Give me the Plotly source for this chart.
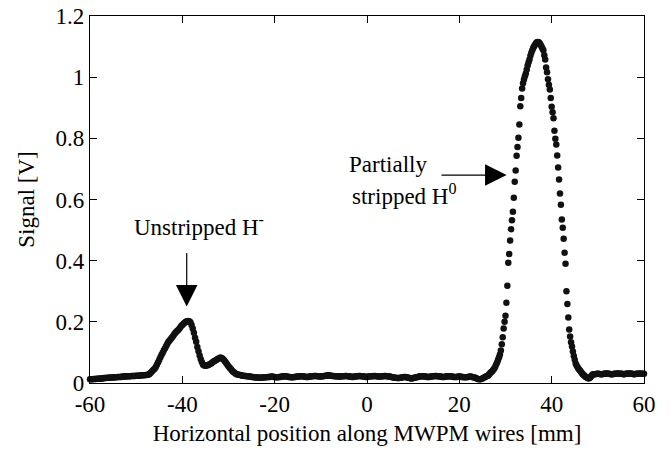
import numpy as np
import plotly.graph_objects as go

# ---- data: MWPM signal [mV] on uniform wire-position grids ----
# segment starts [mm] and steps [mm]
seg_a_start, seg_a_step = -60.0, 0.25
sig_a = [12, 12, 12, 13, 13, 13, 14, 14, 14, 15, 15, 15, 16, 16, 16, 17, 17, 17,
         18, 18, 18, 19, 19, 19, 20, 20, 20, 20, 21, 21, 21, 21, 22, 22, 22, 22,
         23, 23, 23, 23, 24, 24, 24, 24, 25, 25, 25, 25, 26, 26, 27]

seg_b_start, seg_b_step = -47.25, 0.25
sig_b = [28, 31, 35, 39, 43, 47, 52, 60, 68, 76, 84, 92, 99, 107, 114, 121, 128,
         135, 139, 144, 149, 154, 159, 164, 168, 172, 176, 181, 186, 190, 194,
         197, 200, 202]

seg_c_start, seg_c_step = -38.75, 0.25
sig_c = [203, 202, 199, 190, 178, 164, 148, 135, 118, 104, 90, 78, 68, 60, 57,
         56, 57, 58, 60, 62, 64, 67, 70, 72, 74, 77, 79, 81, 83, 82, 79, 75, 70,
         65, 60, 55, 50, 46, 41, 37, 34, 31, 29, 28, 27, 26, 25, 24, 24, 23, 23,
         22, 22, 21, 21, 20]

seg_mid_start, seg_mid_step = -24.75, 0.25
sig_mid = [20, 19, 19, 18, 18, 18, 17, 17, 18, 18, 19, 19, 19, 20, 20, 20,
           21, 21, 20, 20, 19, 19, 19, 20, 20, 21, 21, 22, 22, 21, 21, 20,
           20, 19, 19, 19, 20, 20, 21, 21, 21, 22, 22, 22, 21, 21, 20, 20,
           20, 21, 21, 22, 22, 23, 23, 23, 22, 22, 21, 21, 22, 22, 23, 24,
           24, 25, 25, 24, 24, 23, 23, 22, 22, 22, 21, 21, 21, 22, 22, 22,
           23, 23, 22, 22, 21, 21, 20, 20, 21, 21, 22, 22, 23, 23, 22, 22,
           21, 21, 20, 20, 21, 21, 22, 22, 22, 23, 23, 22, 22, 21, 21, 21,
           22, 22, 23, 23, 22, 22, 21, 21, 20, 19, 18, 17, 17, 16, 16, 16,
           17, 18, 19, 20, 20, 19, 18, 17, 16, 15, 15, 16, 17, 18, 19, 20,
           21, 21, 22, 22, 22, 21, 21, 20, 20, 20, 21, 21, 22, 22, 23, 23,
           22, 22, 21, 21, 20, 20, 20, 21, 21, 22, 22, 22, 21, 21, 20, 20,
           20, 20, 21, 21, 21, 20, 20, 19, 19, 19, 20, 20, 21, 21, 20, 19,
           18, 17, 15, 13, 12, 12, 13, 15, 17, 19, 21, 23]

seg_peak_start, seg_peak_step = 26.2, 0.2
sig_peak = [24, 27, 31, 34, 37, 40, 44, 48, 54, 61, 68, 76, 84, 93, 106, 127,
            150, 178, 200, 220, 262, 318, 393, 422, 466, 503, 532, 560, 606,
            658, 695, 743, 772, 802, 845, 905, 932, 963, 980, 992, 1003, 1012,
            1025, 1038, 1049, 1058, 1070, 1080, 1088, 1095, 1101, 1106, 1111,
            1114, 1115, 1114, 1111, 1106, 1100, 1094, 1088, 1072, 1058, 1032,
            1016, 993, 975, 960, 932, 903, 885, 866, 825, 799, 780, 744, 705,
            665, 620, 583, 535, 508, 472, 426, 390, 300, 258, 214, 175, 152,
            133, 119, 103, 88, 76, 64, 57, 52, 47, 43, 39, 35, 31, 28, 25, 22,
            20, 18, 16, 15, 16, 19, 23, 27, 29]

seg_r_start, seg_r_step = 49.25, 0.25
sig_r = [29, 29, 30, 30, 30, 29, 29, 29, 30, 30, 31, 31, 30, 30, 29, 29, 29,
         30, 30, 30, 31, 31, 30, 30, 30, 29, 29, 30, 30, 31, 31, 31, 30, 30,
         29, 29, 30, 30, 30, 31, 31, 30, 30, 30]

x_tickvals = [-60, -40, -20, 0, 20, 40, 60]
x_ticktext = ["-60", "-40", "-20", "0", "20", "40", "60"]
y_tickvals = [0, 0.2, 0.4, 0.6, 0.8, 1.0, 1.2]
y_ticktext = ["0", "0.2", "0.4", "0.6", "0.8", "1", "1.2"]

segments = [(seg_a_start, seg_a_step, sig_a), (seg_b_start, seg_b_step, sig_b),
            (seg_c_start, seg_c_step, sig_c), (seg_mid_start, seg_mid_step, sig_mid),
            (seg_peak_start, seg_peak_step, sig_peak), (seg_r_start, seg_r_step, sig_r)]

xs, ys = [], []
for start, step, vals in segments:
    xs.extend(start + step * np.arange(len(vals)))
    ys.extend(np.array(vals) / 1000.0)

FONT = "Liberation Serif, Times New Roman, serif"
FS = 23
fig = go.Figure()
fig.add_trace(go.Scatter(x=xs, y=ys, mode="markers",
                         marker=dict(size=6.5, color="#111111", line=dict(width=0)),
                         cliponaxis=False, showlegend=False, hoverinfo="skip"))

axis_common = dict(showgrid=False, zeroline=False, showline=True, linecolor="black",
                   linewidth=1.4, mirror="ticks", ticks="inside", ticklen=7,
                   tickwidth=1, tickcolor="black", automargin=False,
                   tickfont=dict(family=FONT, size=FS, color="black"))

fig.update_xaxes(range=[-60, 60], tickvals=x_tickvals, ticktext=x_ticktext,
                 title=dict(text="Horizontal position along MWPM wires [mm]",
                            font=dict(family=FONT, size=FS, color="black"), standoff=9),
                 **axis_common)
fig.update_yaxes(range=[0, 1.2], tickvals=y_tickvals, ticktext=y_ticktext,
                 title=dict(text="Signal [V]",
                            font=dict(family=FONT, size=FS, color="black"), standoff=14),
                 **axis_common)

# arrows
fig.add_annotation(x=-39.05, y=0.25, ax=-39.05, ay=0.43, xref="x", yref="y",
                   axref="x", ayref="y", text="", showarrow=True, arrowhead=2,
                   arrowsize=3.6, arrowwidth=1.2, arrowcolor="black")
fig.add_annotation(x=30.25, y=0.68, ax=15.8, ay=0.68, xref="x", yref="y",
                   axref="x", ayref="y", text="", showarrow=True, arrowhead=2,
                   arrowsize=3.6, arrowwidth=1.2, arrowcolor="black")
# labels
fig.add_annotation(x=-50.9, y=0.515, xref="x", yref="y", xanchor="left", yanchor="middle",
                   text="Unstripped H<sup>-</sup>", showarrow=False,
                   font=dict(family=FONT, size=FS, color="black"))
fig.add_annotation(x=13.5, y=0.716, xref="x", yref="y", xanchor="right", yanchor="middle",
                   text="Partially", showarrow=False,
                   font=dict(family=FONT, size=FS, color="black"))
fig.add_annotation(x=20.0, y=0.616, xref="x", yref="y", xanchor="right", yanchor="middle",
                   text="stripped H<sup>0</sup>", showarrow=False,
                   font=dict(family=FONT, size=FS, color="black"))

fig.update_layout(width=670, height=451, margin=dict(l=90, r=26, t=16, b=68),
                  paper_bgcolor="white", plot_bgcolor="white")
fig.write_html("out.html")
